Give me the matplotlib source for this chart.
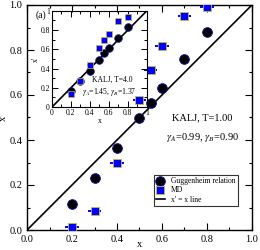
import matplotlib
matplotlib.use("Agg")
import matplotlib.pyplot as plt
from matplotlib.ticker import MultipleLocator, FormatStrFormatter

plt.rcParams['font.family'] = ['Liberation Serif', 'DejaVu Serif']
plt.rcParams['mathtext.fontset'] = 'stix'

# main panel, KALJ T=1.00
x_gug = [0.2, 0.3, 0.4, 0.5, 0.55, 0.6, 0.7, 0.8]
y_gug = [0.114, 0.23, 0.363, 0.498, 0.564, 0.631, 0.76, 0.88]
x_md = [0.2, 0.3, 0.4, 0.5, 0.55, 0.6, 0.7, 0.8]
y_md = [0.015, 0.084, 0.296, 0.578, 0.71, 0.82, 0.95, 0.99]

# inset, KALJ T=4.0
xi_gug = [0.2, 0.3, 0.4, 0.5, 0.55, 0.6, 0.7, 0.8]
yi_gug = [0.17, 0.27, 0.375, 0.49, 0.56, 0.61, 0.72, 0.83]
xi_md = [0.2, 0.3, 0.4, 0.5, 0.55, 0.6, 0.7, 0.8]
yi_md = [0.14, 0.27, 0.44, 0.61, 0.70, 0.76, 0.89, 0.94]

err_gug = 0.022
err_md = 0.03

fig = plt.figure(figsize=(2.6, 2.5), dpi=100)
ax = fig.add_axes([0.104, 0.08, 0.865, 0.9])

ax.plot([0, 1], [0, 1], color='black', lw=1.2, label="x' = x line", zorder=2)
ax.errorbar(x_gug, y_gug, xerr=err_gug, fmt='o', color='black', ecolor='black',
            elinewidth=0.9, ms=7, mfc='black', mec='#1010a0', mew=0.6,
            label='Guggenheim relation', zorder=3)
ax.errorbar(x_md, y_md, xerr=err_md, fmt='s', color='blue', ecolor='blue',
            elinewidth=1.4, ms=5.5, mfc='blue', mec='#c8c030', mew=0.6,
            label='MD', zorder=4)

ax.set_xlim(0, 1)
ax.set_ylim(0, 1)
ax.xaxis.set_major_locator(MultipleLocator(0.2))
ax.xaxis.set_minor_locator(MultipleLocator(0.1))
ax.yaxis.set_major_locator(MultipleLocator(0.2))
ax.yaxis.set_minor_locator(MultipleLocator(0.1))
ax.xaxis.set_major_formatter(FormatStrFormatter('%.1f'))
ax.yaxis.set_major_formatter(FormatStrFormatter('%.1f'))
ax.tick_params(which='both', direction='in', top=True, right=True, labelsize=7.5, width=0.8)
ax.tick_params(which='major', length=5)
ax.tick_params(which='minor', length=2.5)
for s in ax.spines.values():
    s.set_linewidth(1.0)
ax.set_xlabel('x', fontsize=7.5)
ax.xaxis.set_label_coords(0.5, -0.045)
ax.set_ylabel("x'", fontsize=7.5)
ax.yaxis.set_label_coords(-0.085, 0.5)

ax.text(0.78, 0.50, 'KALJ, T=1.00', fontsize=7.5, ha='center', va='center')
ax.text(0.78, 0.41, r'$\gamma_A$=0.99, $\gamma_B$=0.90', fontsize=7.5, ha='center', va='center')
ax.text(0.04, 0.975, '(a)', fontsize=7, ha='left', va='top')

handles, labels = ax.get_legend_handles_labels()
order = [1, 2, 0]
leg = ax.legend([handles[i] for i in order], [labels[i] for i in order],
                loc='lower right', bbox_to_anchor=(0.955, 0.09), fontsize=5.5,
                frameon=True, fancybox=False, edgecolor='black', borderpad=0.3,
                handlelength=1.2, handletextpad=0.8, labelspacing=0.15)
leg.get_frame().set_linewidth(0.8)

# inset
ins = fig.add_axes([0.2, 0.572, 0.365, 0.385])
ins.patch.set_alpha(0)
ins.plot([0, 1], [0, 1], color='black', lw=1.2, zorder=2)
ins.errorbar(xi_gug, yi_gug, xerr=err_gug, fmt='o', color='black', ecolor='black',
             elinewidth=0.8, ms=5.5, mfc='black', mec='#1010a0', mew=0.5, zorder=3)
ins.errorbar(xi_md, yi_md, xerr=err_md, fmt='s', color='blue', ecolor='blue',
             elinewidth=1.2, ms=5, mfc='blue', mec='#c8c030', mew=0.5, zorder=4)
ins.set_xlim(0, 1)
ins.set_ylim(0, 1)
ins.xaxis.set_major_locator(MultipleLocator(0.2))
ins.xaxis.set_minor_locator(MultipleLocator(0.1))
ins.yaxis.set_major_locator(MultipleLocator(0.2))
ins.yaxis.set_minor_locator(MultipleLocator(0.1))
ins.xaxis.set_major_formatter(FormatStrFormatter('%g'))
ins.yaxis.set_major_formatter(FormatStrFormatter('%g'))
ins.tick_params(which='both', direction='in', top=True, right=True, labelsize=5.5, width=0.7, pad=1.5)
ins.tick_params(which='major', length=4)
ins.tick_params(which='minor', length=2)
ins.set_xlabel('x', fontsize=5.5, labelpad=0)
ins.set_ylabel("x'", fontsize=5.5, labelpad=0)
ins.text(0.63, 0.28, 'KALJ, T=4.0', fontsize=5.5, ha='center', va='center')
ins.text(0.6, 0.155, r'$\gamma_A$=1.45, $\gamma_B$=1.37', fontsize=5.5, ha='center', va='center')

fig.savefig('out.png', dpi=100)
